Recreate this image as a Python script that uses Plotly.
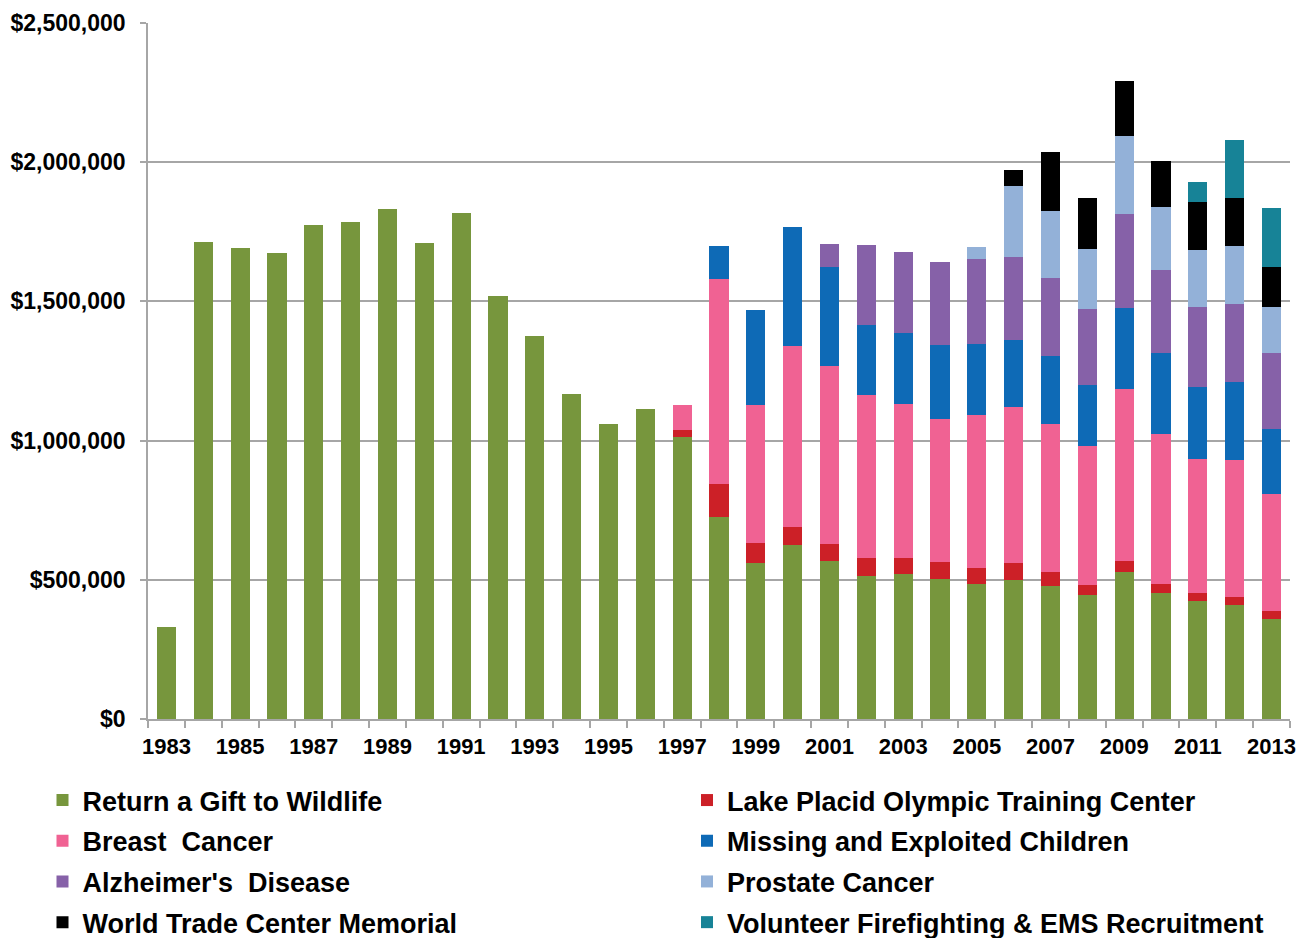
import plotly.graph_objects as go

years = list(range(1983, 2014))

wildlife = [330000, 1713000, 1692000, 1674000, 1774000, 1785000, 1832000, 1710000, 1818000, 1519000,
            1376000, 1167000, 1060000, 1113000, 1012000, 727000, 562000, 625000, 568000, 514000,
            520000, 503000, 484000, 499000, 476000, 445000, 528000, 451000, 423000, 410000, 361000]
lake_placid = [0]*14 + [25000, 118000, 71000, 66000, 60000, 66000, 60000, 62000, 60000, 62000,
                        52000, 36000, 38000, 35000, 29000, 30000, 26000]
breast = [0]*14 + [90000, 737000, 494000, 648000, 640000, 584000, 552000, 514000, 547000, 559000,
                   531000, 501000, 618000, 537000, 483000, 490000, 422000]
missing = [0]*15 + [116000, 341000, 428000, 357000, 253000, 253000, 265000, 257000, 243000,
                    244000, 218000, 291000, 291000, 259000, 281000, 232000]
alzheimers = [0]*18 + [82000, 285000, 291000, 296000, 305000, 297000,
                       281000, 273000, 338000, 298000, 287000, 281000, 273000]
prostate = [0]*22 + [43000, 253000, 240000, 216000, 281000, 227000, 203000, 208000, 167000]
wtc = [0]*23 + [58000, 212000, 182000, 199000, 167000, 172000, 171000, 141000]
volunteer = [0]*28 + [73000, 208000, 213000]

series = [
    ("Return a Gift to Wildlife", wildlife, "#77963D", "legend"),
    ("Lake Placid Olympic Training Center", lake_placid, "#CC2027", "legend2"),
    ("Breast  Cancer", breast, "#F06293", "legend"),
    ("Missing and Exploited Children", missing, "#0E6AB6", "legend2"),
    ("Alzheimer's  Disease", alzheimers, "#8661A8", "legend"),
    ("Prostate Cancer", prostate, "#93B1D8", "legend2"),
    ("World Trade Center Memorial", wtc, "#000000", "legend"),
    ("Volunteer Firefighting & EMS Recruitment", volunteer, "#178397", "legend2"),
]

FONT = "Liberation Sans, Arial, sans-serif"
W, H = 1300, 930

fig = go.Figure()
for i, (name, vals, color, lg) in enumerate(series):
    fig.add_trace(go.Bar(
        x=years, y=vals, name=name, marker_color=color,
        marker_line_width=0, legend=lg, legendgroup=f"g{i}",
        width=0.52,
    ))

legend_common = dict(
    xref="container", yref="container", y=1 - 768/H,
    xanchor="left", yanchor="top", traceorder="grouped", tracegroupgap=2.6,
    font=dict(family=FONT, size=27, color="black", weight="bold"),
    itemwidth=30, bgcolor="rgba(0,0,0,0)",
)

fig.update_layout(
    width=W, height=H,
    barmode="stack",
    plot_bgcolor="white", paper_bgcolor="white",
    margin=dict(l=140, r=18, t=15, b=219, autoexpand=False),
    font=dict(family=FONT, color="black"),
    showlegend=True,
    legend=dict(x=34.5/W, **legend_common),
    legend2=dict(x=679/W, **legend_common),
)

fig.update_xaxes(
    range=[1982.5, 2013.5],
    tickvals=list(range(1983, 2014, 2)),
    ticktext=[str(y) for y in range(1983, 2014, 2)],
    ticks="", showgrid=False, zeroline=False,
    showline=True, linecolor="#A6A6A6", linewidth=1.5,
    ticklabelstandoff=7,
    tickfont=dict(family=FONT, size=22, color="black", weight="bold"),
    minor=dict(ticks="outside", tick0=1982.5, dtick=1, ticklen=7, tickcolor="#A6A6A6", tickwidth=1.5, showgrid=False),
)
fig.update_yaxes(
    range=[0, 2500000], dtick=500000, tickprefix="$", tickformat=",",
    showgrid=True, gridcolor="#A6A6A6", gridwidth=1.5, zeroline=False,
    showline=True, linecolor="#A6A6A6", linewidth=1.5,
    ticks="outside", ticklen=6, tickcolor="#A6A6A6", tickwidth=1.5,
    ticklabelstandoff=10,
    tickfont=dict(family=FONT, size=23, color="black", weight="bold"),
)

fig.write_html("out.html")
